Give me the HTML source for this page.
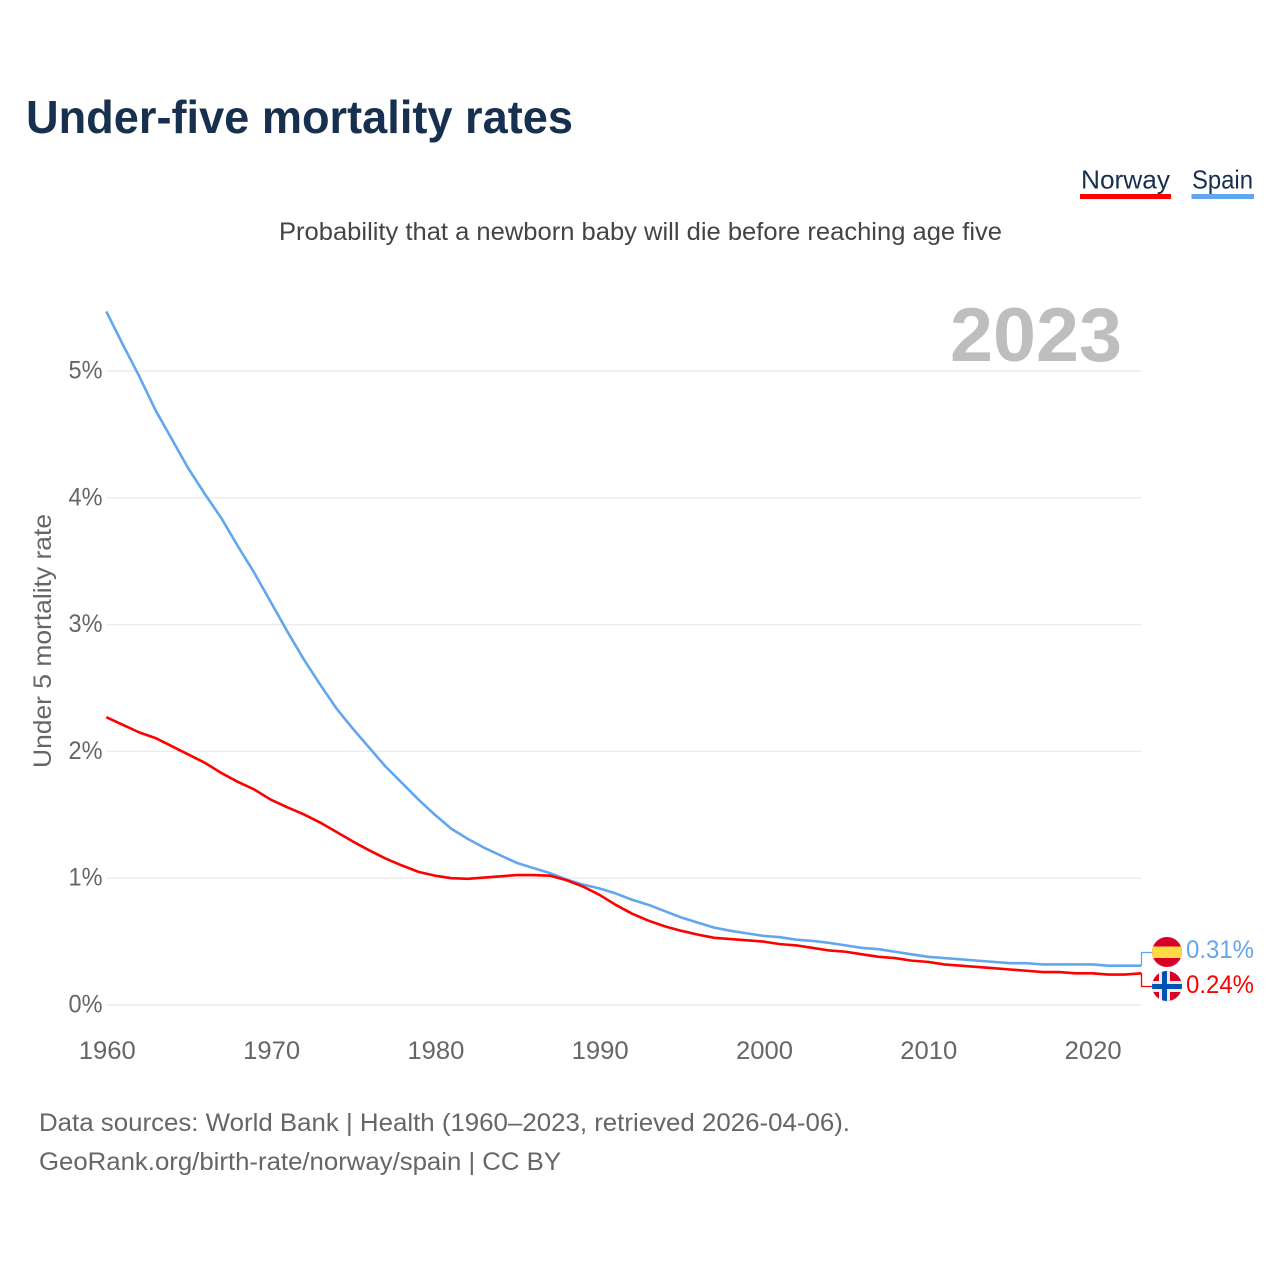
<!DOCTYPE html>
<html lang="en">
<head>
<meta charset="utf-8">
<title>Under-five mortality rates</title>
<style>
html,body{margin:0;padding:0;background:#fff;width:1280px;height:1280px;overflow:hidden}
svg{display:block}
text{font-family:"Liberation Sans",sans-serif}
</style>
</head>
<body>
<svg id="chart" xmlns="http://www.w3.org/2000/svg" width="1280" height="1280" viewBox="0 0 1280 1280">
  <rect x="0" y="0" width="1280" height="1280" fill="#ffffff"/>
  <text x="26" y="133" font-size="46" font-weight="700" fill="#18304f" textLength="547" lengthAdjust="spacingAndGlyphs">Under-five mortality rates</text>
  <text x="1081" y="188.5" font-size="26" fill="#18304f" textLength="89" lengthAdjust="spacingAndGlyphs">Norway</text>
  <rect x="1080" y="194" width="91" height="5" fill="#ff0000"/>
  <text x="1192" y="188.5" font-size="26" fill="#18304f" textLength="61" lengthAdjust="spacingAndGlyphs">Spain</text>
  <rect x="1191.5" y="194" width="62.5" height="5" fill="#62a6ee"/>
  <text x="279" y="240" font-size="25" fill="#444444" textLength="723" lengthAdjust="spacingAndGlyphs">Probability that a newborn baby will die before reaching age five</text>
  <g id="grid"></g>
  <text x="950" y="361" font-size="76" font-weight="700" fill="#bebebe" textLength="172" lengthAdjust="spacingAndGlyphs">2023</text>
  <g id="yticks"></g>
  <g id="xticks"></g>
  <text transform="translate(51,641) rotate(-90)" x="0" y="0" font-size="25" fill="#666666" text-anchor="middle" textLength="254" lengthAdjust="spacingAndGlyphs">Under 5 mortality rate</text>
  <g id="series"></g>
  <defs>
    <clipPath id="clip-es"><circle cx="1167" cy="952" r="15"/></clipPath>
    <clipPath id="clip-no"><circle cx="1167" cy="986" r="15"/></clipPath>
  </defs>
  <g clip-path="url(#clip-es)">
    <rect x="1152" y="937" width="30" height="30" fill="#d80027"/>
    <rect x="1152" y="946.5" width="30" height="11.5" fill="#ffda44"/>
  </g>
  <g clip-path="url(#clip-no)">
    <rect x="1152" y="971" width="30" height="30" fill="#d80027"/>
    <rect x="1159" y="971" width="11" height="30" fill="#eeeeee"/>
    <rect x="1152" y="981" width="30" height="11" fill="#eeeeee"/>
    <rect x="1162" y="971" width="5" height="30" fill="#0052b4"/>
    <rect x="1152" y="984" width="30" height="5" fill="#0052b4"/>
  </g>
  <text x="1186" y="958" font-size="25" fill="#62a6ee" textLength="68" lengthAdjust="spacingAndGlyphs" id="label-spain"></text>
  <text x="1186" y="993" font-size="25" fill="#ff0000" textLength="68" lengthAdjust="spacingAndGlyphs" id="label-norway"></text>
  <text x="39" y="1131" font-size="25" fill="#666666" textLength="811" lengthAdjust="spacingAndGlyphs">Data sources: World Bank | Health (1960–2023, retrieved 2026-04-06).</text>
  <text x="39" y="1170" font-size="25" fill="#666666" textLength="522" lengthAdjust="spacingAndGlyphs">GeoRank.org/birth-rate/norway/spain | CC BY</text>
</svg>
<script>
const startYear = 1960;
const spainValues = [5.47,5.21,4.96,4.69,4.46,4.23,4.03,3.84,3.62,3.41,3.18,2.95,2.73,2.53,2.34,2.18,2.03,1.88,1.75,1.62,1.50,1.39,1.31,1.24,1.18,1.12,1.08,1.04,0.99,0.95,0.92,0.88,0.83,0.79,0.74,0.69,0.65,0.61,0.585,0.565,0.545,0.535,0.515,0.505,0.49,0.47,0.45,0.44,0.42,0.40,0.38,0.37,0.36,0.35,0.34,0.33,0.33,0.32,0.32,0.32,0.32,0.31,0.31,0.31];
const norwayValues = [2.27,2.21,2.15,2.105,2.04,1.975,1.91,1.83,1.76,1.70,1.62,1.56,1.505,1.44,1.365,1.29,1.22,1.155,1.10,1.05,1.02,1.00,0.995,1.005,1.015,1.025,1.025,1.02,0.985,0.935,0.87,0.79,0.72,0.665,0.62,0.585,0.555,0.53,0.52,0.51,0.50,0.48,0.47,0.45,0.43,0.42,0.40,0.38,0.37,0.35,0.34,0.32,0.31,0.30,0.29,0.28,0.27,0.26,0.26,0.25,0.25,0.24,0.24,0.25];
const yTickValues = [0,1,2,3,4,5];
const xTickYears = [1960,1970,1980,1990,2000,2010,2020];
const spainPrinted = "0.31%";
const norwayPrinted = "0.24%";

const NS = "http://www.w3.org/2000/svg";
function xScale(year){ return 106.3 + (year - 1960) * 16.43; }
function yScale(v){ return 1005 - v * 126.8; }
function make(tag, parent, attrs){
  const el = document.createElementNS(NS, tag);
  for (const k in attrs) el.setAttribute(k, attrs[k]);
  parent.appendChild(el);
  return el;
}
const gridG = document.getElementById("grid");
const yG = document.getElementById("yticks");
const xG = document.getElementById("xticks");
const seriesG = document.getElementById("series");

yTickValues.forEach(function(v){
  const line = make("line", gridG, {x1:106.3, x2:1141.4, y1:yScale(v), y2:yScale(v), stroke:"#ececec", "stroke-width":1.5});
  
  
  const t = make("text", yG, {x:102.5, y:yScale(v)+7.5, "font-size":25, fill:"#666666", "text-anchor":"end", textLength:34, lengthAdjust:"spacingAndGlyphs"});
  
  
  t.textContent = v + "%";
});
xTickYears.forEach(function(y){
  const t = make("text", xG, {x:xScale(y)+1, y:1059, "font-size":25, fill:"#666666", "text-anchor":"middle", textLength:57, lengthAdjust:"spacingAndGlyphs"});
  
  
  t.textContent = y;
});
function linePath(values){
  return values.map(function(v,i){
    return (i ? "L" : "M") + xScale(startYear + i).toFixed(2) + " " + yScale(v).toFixed(2);
  }).join(" ");
}
const spainLine = make("path", seriesG, {d:linePath(spainValues), fill:"none", stroke:"#62a6ee", "stroke-width":2.6, "stroke-linejoin":"round"});


const norwayLine = make("path", seriesG, {d:linePath(norwayValues), fill:"none", stroke:"#ff0000", "stroke-width":2.6, "stroke-linejoin":"round"});



const spainEnd = yScale(spainValues[spainValues.length-1]);
const norwayEnd = yScale(norwayValues[norwayValues.length-1]);
const spainConn = make("path", seriesG, {d:"M1141.5 "+spainEnd.toFixed(2)+" V952.5 H1152", fill:"none", stroke:"#62a6ee", "stroke-width":1.3});


const norwayConn = make("path", seriesG, {d:"M1141.5 "+norwayEnd.toFixed(2)+" V986.5 H1152", fill:"none", stroke:"#ff0000", "stroke-width":1.3});



document.getElementById("label-spain").textContent = spainPrinted;
document.getElementById("label-norway").textContent = norwayPrinted;
</script>
</body>
</html>
